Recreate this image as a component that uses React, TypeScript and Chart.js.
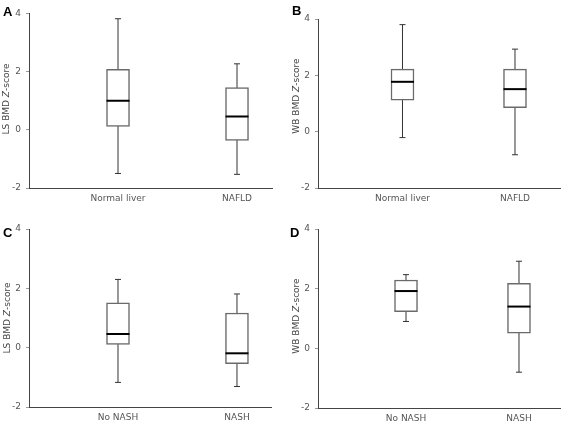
import React, { useEffect, useRef } from "react";
import { Chart, registerables } from "chart.js";
Chart.register(...registerables);

// ---- data ----
const categoriesLiver = ["Normal liver", "NAFLD"];
const categoriesNash = ["No NASH", "NASH"];
const yTickValues = [-2, 0, 2, 4];

// Panel A: LS BMD Z-score, Normal liver vs NAFLD
const aMin = [-1.5, -1.53];
const aQ1 = [0.12, -0.36];
const aMedian = [1.0, 0.46];
const aQ3 = [2.08, 1.45];
const aMax = [3.82, 2.27];

// Panel B: WB BMD Z-score, Normal liver vs NAFLD
const bMin = [-0.21, -0.82];
const bQ1 = [1.12, 0.85];
const bMedian = [1.77, 1.51];
const bQ3 = [2.22, 2.22];
const bMax = [3.8, 2.93];

// Panel C: LS BMD Z-score, No NASH vs NASH
const cMin = [-1.17, -1.31];
const cQ1 = [0.11, -0.54];
const cMedian = [0.46, -0.19];
const cQ3 = [1.51, 1.17];
const cMax = [2.3, 1.81];

// Panel D: WB BMD Z-score, No NASH vs NASH
const dMin = [0.9, -0.8];
const dQ1 = [1.23, 0.51];
const dMedian = [1.92, 1.4];
const dQ3 = [2.29, 2.18];
const dMax = [2.47, 2.92];

const FONT = '"DejaVu Sans", Verdana, sans-serif';

type PanelProps = {
  letter: string;
  titlePrefix: string;
  categories: string[];
  mins: number[];
  q1s: number[];
  medians: number[];
  q3s: number[];
  maxs: number[];
  left: number;
  top: number;
  right: number;
  bottom: number;
  xMin: number;
  xMax: number;
  titleX: number;
  titleY: number;
  letterX: number;
  letterY: number;
  posX: number;
  posY: number;
};

const W = 287;
const H = 214;

function Panel(p: PanelProps) {
  const ref = useRef<HTMLCanvasElement | null>(null);
  useEffect(() => {
    if (!ref.current) return;
    const whiskers = p.categories.map((c, i) => ({
      type: "line" as const,
      data: [
        { x: i + 1, y: p.mins[i] },
        { x: i + 1, y: p.maxs[i] },
      ],
      borderColor: "#333",
      borderWidth: 1,
      pointStyle: "line" as const,
      pointRadius: 3,
      pointBorderWidth: 1,
      pointBorderColor: "#333",
      pointBackgroundColor: "#333",
      order: 3,
    }));
    const boxes = {
      type: "bar" as const,
      data: p.categories.map((c, i) => ({ x: i + 1, y: [p.q1s[i], p.q3s[i]] })),
      backgroundColor: "#ffffff",
      borderColor: "#6a6a6a",
      borderWidth: 1.5,
      borderSkipped: false,
      barThickness: 23,
      order: 2,
    };
    const medians = {
      type: "scatter" as const,
      data: p.categories.map((c, i) => ({ x: i + 1, y: p.medians[i] })),
      pointStyle: "line" as const,
      pointRadius: 11.5,
      pointBorderWidth: 2,
      pointBorderColor: "#000",
      pointBackgroundColor: "#000",
      order: 1,
    };

    const decor = {
      id: "decor" + p.letter,
      afterDraw(chart: any) {
        const ctx = chart.ctx;
        ctx.save();
        // panel letter
        ctx.font = `bold 13px "Liberation Sans", Arial, sans-serif`;
        ctx.fillStyle = "#000";
        ctx.textBaseline = "alphabetic";
        ctx.textAlign = "left";
        ctx.fillText(p.letter, p.letterX, p.letterY);
        // y title with italic Z
        const parts = [
          { t: p.titlePrefix, f: `9px ${FONT}` },
          { t: "Z", f: `italic 9px ${FONT}` },
          { t: "-score", f: `9px ${FONT}` },
        ];
        let total = 0;
        const widths = parts.map((pt) => {
          ctx.font = pt.f;
          const w = ctx.measureText(pt.t).width;
          total += w;
          return w;
        });
        ctx.translate(p.titleX, p.titleY);
        ctx.rotate(-Math.PI / 2);
        ctx.textBaseline = "middle";
        ctx.fillStyle = "#444";
        let x = -total / 2;
        parts.forEach((pt, i) => {
          ctx.font = pt.f;
          ctx.fillText(pt.t, x, 0);
          x += widths[i];
        });
        ctx.restore();
      },
    };

    const chart = new Chart(ref.current, {
      type: "bar",
      data: { datasets: [...whiskers, boxes, medians] as any },
      options: {
        animation: false,
        responsive: false,
        devicePixelRatio: 1,
        layout: { padding: { top: p.top, right: W - p.right, left: 0, bottom: 0 } },
        plugins: { legend: { display: false }, tooltip: { enabled: false } },
        scales: {
          x: {
            type: "linear",
            min: p.xMin,
            max: p.xMax,
            offset: false,
            grid: { display: false, drawTicks: false, tickLength: 0 },
            border: { display: true, color: "#444", width: 1 },
            afterBuildTicks: (s: any) => {
              s.ticks = p.categories.map((c, i) => ({ value: i + 1 }));
            },
            afterFit: (s: any) => {
              s.height = H - p.bottom;
            },
            ticks: {
              autoSkip: false,
              maxRotation: 0,
              padding: 5,
              color: "#555",
              font: { family: FONT, size: 9 },
              callback: (v: any) => p.categories[Math.round(Number(v)) - 1] ?? "",
            },
          },
          y: {
            type: "linear",
            min: -2,
            max: 4,
            afterBuildTicks: (s: any) => {
              s.ticks = yTickValues.map((v) => ({ value: v }));
            },
            afterFit: (s: any) => {
              s.width = p.left;
            },
            grid: {
              drawOnChartArea: false,
              drawTicks: true,
              tickLength: 3,
              color: "#999",
            },
            border: { display: true, color: "#444", width: 1 },
            ticks: {
              padding: 5,
              color: "#555",
              font: { family: FONT, size: 9 },
            },
          },
        },
      } as any,
      plugins: [decor],
    });
    return () => chart.destroy();
  }, []);
  return (
    <canvas
      ref={ref}
      width={W}
      height={H}
      style={{ position: "absolute", left: p.posX, top: p.posY, width: W, height: H }}
    />
  );
}

export default function App() {
  return (
    <div style={{ position: "absolute", left: 0, top: 0, width: 574, height: 428, background: "#fff" }}>
      <Panel
        letter="A" titlePrefix="LS BMD " categories={categoriesLiver}
        mins={aMin} q1s={aQ1} medians={aMedian} q3s={aQ3} maxs={aMax}
        left={29} top={11} right={272} bottom={188} xMin={0.252} xMax={2.294}
        titleX={7} titleY={99} letterX={3} letterY={16} posX={0} posY={0}
      />
      <Panel
        letter="B" titlePrefix="WB BMD " categories={categoriesLiver}
        mins={bMin} q1s={bQ1} medians={bMedian} q3s={bQ3} maxs={bMax}
        left={31} top={19} right={273} bottom={188} xMin={0.249} xMax={2.4}
        titleX={10} titleY={96} letterX={5} letterY={15} posX={287} posY={0}
      />
      <Panel
        letter="C" titlePrefix="LS BMD " categories={categoriesNash}
        mins={cMin} q1s={cQ1} medians={cMedian} q3s={cQ3} maxs={cMax}
        left={29} top={15} right={271} bottom={193} xMin={0.252} xMax={2.286}
        titleX={8} titleY={104} letterX={3} letterY={23} posX={0} posY={214}
      />
      <Panel
        letter="D" titlePrefix="WB BMD " categories={categoriesNash}
        mins={dMin} q1s={dQ1} medians={dMedian} q3s={dQ3} maxs={dMax}
        left={31} top={15} right={273} bottom={194} xMin={0.221} xMax={2.363}
        titleX={10} titleY={102} letterX={3} letterY={23} posX={287} posY={214}
      />
    </div>
  );
}
